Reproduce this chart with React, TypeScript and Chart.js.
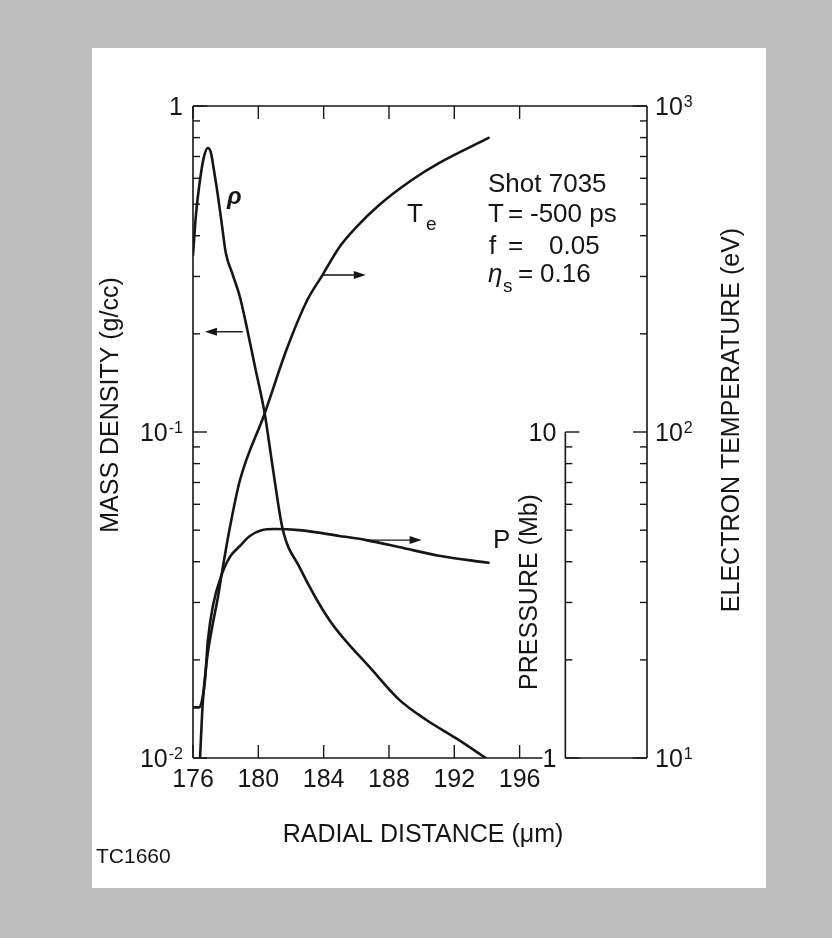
import React, { useEffect, useRef } from 'react';
import { Chart, registerables } from 'chart.js';

Chart.register(...registerables);

// ---- data ----
// mass density rho (g/cc) vs radial distance (um)
const rhoRadius = [176.0, 176.18, 176.43, 176.67, 176.91, 177.1, 177.28, 177.52, 177.77, 178.01, 178.44, 178.87, 179.29, 179.78, 180.39, 180.88, 181.49, 182.52, 184.35, 186.98, 188.62, 190.27, 192.1, 193.93];
const rhoValues = [0.349, 0.463, 0.593, 0.698, 0.743, 0.718, 0.636, 0.533, 0.432, 0.354, 0.303, 0.26, 0.21, 0.16, 0.114, 0.078, 0.0504, 0.0385, 0.0265, 0.0186, 0.0151, 0.0131, 0.0115, 0.01];

// electron temperature Te (eV)
const teRadius = [176.43, 176.61, 176.85, 177.16, 177.52, 177.77, 178.26, 178.87, 180.39, 181.73, 183.0, 183.93, 184.96, 186.0, 187.4, 189.4, 191.06, 194.1];
const teValues = [10, 15.1, 20, 25, 31, 37, 51, 71, 114, 179, 254, 303, 369, 425, 497, 593, 668, 798];

// pressure P (Mb)
const pRadius = [176.0, 176.37, 176.55, 176.73, 176.91, 177.22, 177.77, 178.26, 178.87, 179.48, 180.2, 181.0, 182.5, 184.96, 186.6, 188.6, 191.06, 194.1];
const pValues = [1.43, 1.43, 1.5, 1.72, 2.29, 2.93, 3.67, 4.14, 4.47, 4.8, 5.0, 5.04, 5.0, 4.8, 4.66, 4.44, 4.17, 3.97];

// axes
const xTicks = [176, 180, 184, 188, 192, 196];
const rhoMajor = [1, 0.1, 0.01];
const rhoLabels = ['1', '10^-1', '10^-2'];
const teMajor = [1000, 100, 10];
const teLabels = ['10^3', '10^2', '10^1'];
const pMajor = [10, 1];
const pLabels = ['10', '1'];

// arrows: [from x, to x, level]
const rhoArrow = [179.05, 176.73, 0.203];
const teArrow = [183.93, 186.58, 303];
const pArrow = [186.6, 190.0, 4.66];

const X_MIN = 176;
const X_MAX = 203.8;
const X_AXIS_END = 197.4;
const P_AXIS_X = 198.8;

const FONT = '"Liberation Sans", Arial, Helvetica, sans-serif';
const INK = '#161616';

function drawPow(ctx: CanvasRenderingContext2D, label: string, x: number, yc: number, align: 'left' | 'right') {
  const [base, exp] = label.split('^');
  ctx.font = `25px ${FONT}`;
  const wb = ctx.measureText(base).width;
  ctx.font = `16px ${FONT}`;
  const we = exp ? ctx.measureText(exp).width + 1 : 0;
  const total = wb + we;
  const x0 = align === 'right' ? x - total : x;
  const baseline = yc + 9;
  ctx.textAlign = 'left';
  ctx.textBaseline = 'alphabetic';
  ctx.font = `25px ${FONT}`;
  ctx.fillText(base, x0, baseline);
  if (exp) {
    ctx.font = `16px ${FONT}`;
    ctx.fillText(exp, x0 + wb + 1, baseline - 8);
  }
}

function line(ctx: CanvasRenderingContext2D, x1: number, y1: number, x2: number, y2: number) {
  ctx.beginPath();
  ctx.moveTo(x1, y1);
  ctx.lineTo(x2, y2);
  ctx.stroke();
}

function arrow(ctx: CanvasRenderingContext2D, x1: number, x2: number, y: number) {
  const dir = Math.sign(x2 - x1);
  const head = 12;
  ctx.lineWidth = 1.4;
  line(ctx, x1, y, x2 - dir * head * 0.8, y);
  ctx.beginPath();
  ctx.moveTo(x2, y);
  ctx.lineTo(x2 - dir * head, y - 4);
  ctx.lineTo(x2 - dir * head, y + 4);
  ctx.closePath();
  ctx.fill();
}

function logTicks(lo: number, hi: number) {
  const minor: number[] = [];
  for (let d = lo; d < hi * 0.999; d *= 10) {
    for (let k = 2; k <= 9; k++) minor.push(k * d);
  }
  return minor;
}

function rotatedText(ctx: CanvasRenderingContext2D, text: string, x: number, y: number) {
  ctx.save();
  ctx.translate(x, y);
  ctx.rotate(-Math.PI / 2);
  ctx.textAlign = 'center';
  ctx.textBaseline = 'middle';
  ctx.fillText(text, 0, 0);
  ctx.restore();
}

const figurePlugin = {
  id: 'figure',
  beforeDraw(chart: any) {
    const ctx = chart.ctx as CanvasRenderingContext2D;
    ctx.save();
    ctx.fillStyle = '#bebebe';
    ctx.fillRect(0, 0, chart.width, chart.height);
    ctx.fillStyle = '#ffffff';
    ctx.fillRect(92, 48, 674, 840);
    ctx.restore();
  },
  afterDatasetsDraw(chart: any) {
    const ctx = chart.ctx as CanvasRenderingContext2D;
    const xs = chart.scales.x;
    const yR = chart.scales.yRho;
    const yT = chart.scales.yTe;
    const yP = chart.scales.yP;
    const X = (v: number) => xs.getPixelForValue(v);
    const left = X(X_MIN);
    const right = X(X_MAX);
    const top = yR.getPixelForValue(1);
    const bottom = yR.getPixelForValue(0.01);
    const pX = X(P_AXIS_X);
    ctx.save();
    ctx.strokeStyle = INK;
    ctx.fillStyle = INK;
    ctx.lineWidth = 1.6;
    ctx.lineCap = 'butt';
    // frame
    line(ctx, left, top, right, top);
    line(ctx, left, top, left, bottom);
    line(ctx, left, bottom, X(X_AXIS_END), bottom);
    line(ctx, right, top, right, bottom);
    line(ctx, pX, yP.getPixelForValue(10), pX, bottom);
    line(ctx, pX, bottom, right, bottom);

    const MAJ = 14;
    const MIN = 7;
    // x ticks
    ctx.lineWidth = 1.4;
    xTicks.forEach((v) => {
      const px = X(v);
      line(ctx, px, bottom, px, bottom - 13);
      line(ctx, px, top, px, top + 13);
    });
    // rho ticks (left, inward)
    rhoMajor.forEach((v) => {
      const py = yR.getPixelForValue(v);
      line(ctx, left, py, left + MAJ, py);
    });
    logTicks(0.01, 1).forEach((v) => {
      const py = yR.getPixelForValue(v);
      line(ctx, left, py, left + MIN, py);
    });
    // Te ticks (right, inward)
    teMajor.forEach((v) => {
      const py = yT.getPixelForValue(v);
      line(ctx, right, py, right - MAJ, py);
    });
    logTicks(10, 1000).forEach((v) => {
      const py = yT.getPixelForValue(v);
      line(ctx, right, py, right - MIN, py);
    });
    // P ticks (pointing right)
    pMajor.forEach((v) => {
      const py = yP.getPixelForValue(v);
      line(ctx, pX, py, pX + MAJ, py);
    });
    logTicks(1, 10).forEach((v) => {
      const py = yP.getPixelForValue(v);
      line(ctx, pX, py, pX + MIN, py);
    });

    // tick labels
    ctx.font = `25px ${FONT}`;
    ctx.textAlign = 'center';
    ctx.textBaseline = 'alphabetic';
    xTicks.forEach((v) => ctx.fillText(String(v), X(v), bottom + 29));
    rhoMajor.forEach((v, i) => drawPow(ctx, rhoLabels[i], left - 10, yR.getPixelForValue(v), 'right'));
    teMajor.forEach((v, i) => drawPow(ctx, teLabels[i], right + 8, yT.getPixelForValue(v), 'left'));
    pMajor.forEach((v, i) => drawPow(ctx, pLabels[i], pX - 9, yP.getPixelForValue(v), 'right'));

    // axis titles
    ctx.font = `25px ${FONT}`;
    rotatedText(ctx, 'MASS DENSITY (g/cc)', 111, 405);
    rotatedText(ctx, 'PRESSURE (Mb)', 530, 592);
    rotatedText(ctx, 'ELECTRON TEMPERATURE (eV)', 732, 420);
    ctx.textAlign = 'center';
    ctx.textBaseline = 'alphabetic';
    ctx.fillText('RADIAL DISTANCE (\u03bcm)', 423, 842);
    ctx.font = `21px ${FONT}`;
    ctx.textAlign = 'left';
    ctx.fillText('TC1660', 96, 863);

    // arrows
    arrow(ctx, X(rhoArrow[0]), X(rhoArrow[1]), yR.getPixelForValue(rhoArrow[2]));
    arrow(ctx, X(teArrow[0]), X(teArrow[1]), yT.getPixelForValue(teArrow[2]));
    arrow(ctx, X(pArrow[0]), X(pArrow[1]), yP.getPixelForValue(pArrow[2]));

    // curve labels
    ctx.textAlign = 'left';
    ctx.textBaseline = 'alphabetic';
    ctx.font = `italic bold 24px ${FONT}`;
    ctx.fillText('\u03c1', 227, 204);
    ctx.font = `26px ${FONT}`;
    ctx.fillText('T', 407, 222);
    ctx.font = `19px ${FONT}`;
    ctx.fillText('e', 426, 230);
    ctx.font = `26px ${FONT}`;
    ctx.fillText('P', 493, 548);

    // run parameters
    ctx.font = `26px ${FONT}`;
    ctx.fillText('Shot 7035', 488, 192);
    ctx.fillText('T', 488, 222);
    ctx.fillText('=', 508, 222);
    ctx.fillText('-500 ps', 530, 222);
    ctx.fillText('f', 489, 254);
    ctx.fillText('=', 508, 254);
    ctx.fillText('0.05', 549, 254);
    ctx.font = `italic 26px ${FONT}`;
    ctx.fillText('\u03b7', 488, 282);
    ctx.font = `19px ${FONT}`;
    ctx.fillText('s', 503, 292);
    ctx.font = `26px ${FONT}`;
    ctx.fillText('=', 518, 282);
    ctx.fillText('0.16', 540, 282);
    ctx.restore();
  },
};

export default function App() {
  const ref = useRef<HTMLCanvasElement | null>(null);
  useEffect(() => {
    if (!ref.current) return;
    const common = {
      borderColor: INK,
      borderWidth: 2.6,
      pointRadius: 0,
      fill: false,
      cubicInterpolationMode: 'monotone' as const,
      borderJoinStyle: 'round' as const,
      borderCapStyle: 'round' as const,
    };
    const chart = new Chart(ref.current, {
      type: 'line',
      data: {
        datasets: [
          { ...common, label: 'rho', yAxisID: 'yRho', data: rhoRadius.map((x, i) => ({ x, y: rhoValues[i] })) },
          { ...common, label: 'Te', yAxisID: 'yTe', data: teRadius.map((x, i) => ({ x, y: teValues[i] })) },
          { ...common, label: 'P', yAxisID: 'yP', data: pRadius.map((x, i) => ({ x, y: pValues[i] })) },
        ],
      },
      options: {
        animation: false,
        responsive: false,
        maintainAspectRatio: false,
        events: [],
        layout: { padding: { left: 193, right: 185, top: 106, bottom: 180 } },
        plugins: { legend: { display: false }, tooltip: { enabled: false } },
        scales: {
          x: { type: 'linear', min: X_MIN, max: X_MAX, display: false },
          yRho: { type: 'logarithmic', min: 0.01, max: 1, display: false, position: 'left' },
          yTe: { type: 'logarithmic', min: 10, max: 1000, display: false, position: 'right' },
          yP: { type: 'logarithmic', min: 1, max: 100, display: false, position: 'right' },
        },
      } as any,
      plugins: [figurePlugin as any],
    });
    return () => chart.destroy();
  }, []);
  return (
    <div style={{ position: 'absolute', left: 0, top: 0, width: 832, height: 938 }}>
      <canvas ref={ref} width={832} height={938} style={{ display: 'block' }} />
    </div>
  );
}
